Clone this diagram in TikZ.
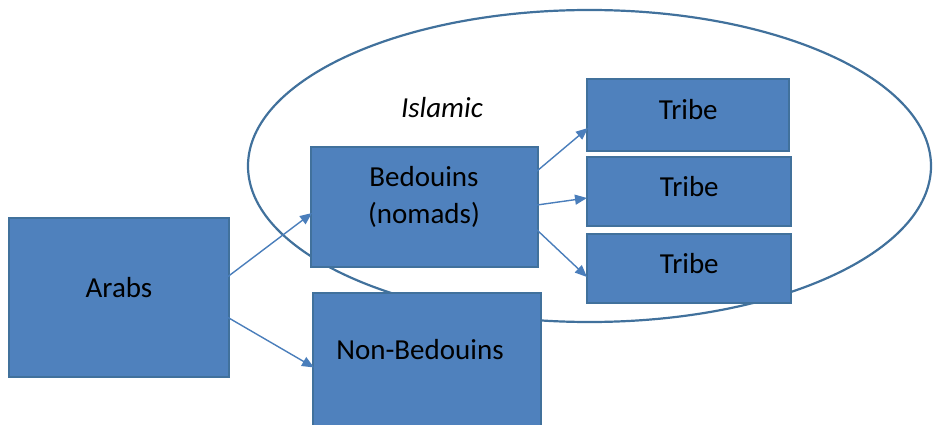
\documentclass[tikz,border=0pt]{standalone}
\usepackage{fontspec}
\setmainfont{Carlito}
\usetikzlibrary{arrows.meta,calc}
\definecolor{boxfill}{HTML}{4F81BD}
\definecolor{boxline}{HTML}{41719C}
\definecolor{conn}{HTML}{4A7EBB}
\begin{document}
\begin{tikzpicture}[x=1pt,y=-1pt,
  box/.style={draw=boxline, line width=2pt, fill=boxfill, inner sep=0pt},
  lbl/.style={font=\fontsize{29}{37.5}\selectfont, align=center, inner sep=0pt, anchor=base},
  arr/.style={draw=conn, line width=1.4pt, -{Triangle[length=12pt,width=10pt]}}]
\useasboundingbox (0,0) rectangle (934,425);
\clip (0,0) rectangle (934,425);
% enclosing ellipse
\draw[boxline, line width=2.2pt] (589.5,166) ellipse [x radius=341.5pt, y radius=156pt];
% boxes
\node[box, minimum width=220pt, minimum height=159pt] (arabs) at (119,297.5) {};
\node[box, minimum width=227pt, minimum height=120pt] (bed) at (424.5,207) {};
\node[box, minimum width=228pt, minimum height=147pt] (nonbed) at (427,366.5) {};
\node[box, minimum width=202pt, minimum height=72pt] (t1) at (688,115) {};
\node[box, minimum width=204pt, minimum height=69pt] (t2) at (689,191.5) {};
\node[box, minimum width=204pt, minimum height=69pt] (t3) at (689,268.5) {};
% labels
\node[lbl] (larabs) at (119,297) {Arabs};
\node[lbl] (lbed) at (424,223.5) {Bedouins\\(nomads)};
\node[lbl] (lnonbed) at (420,359) {Non-Bedouins};
\node[lbl] (lt1) at (688.3,119.3) {Tribe};
\node[lbl] (lt2) at (689.3,196.7) {Tribe};
\node[lbl] (lt3) at (689.3,273.3) {Tribe};
\node[lbl, font=\fontsize{29}{37.5}\selectfont\itshape] (lislam) at (442,117.3) {Islamic};
% connectors
\draw[arr] ($(arabs.east)+(-2,-21)$) -- ($(bed.west)+(2,6)$);
\draw[arr] ($(arabs.east)+(-2,20)$) -- ($(nonbed.west)+(2,1)$);
\draw[arr] ($(bed.east)+(-2,-36)$) -- ($(t1.west)+(2,13)$);
\draw[arr] ($(bed.east)+(-2,-2)$) -- ($(t2.west)+(1,6.5)$);
\draw[arr] ($(bed.east)+(-2,23)$) -- ($(t3.west)+(1,8.5)$);
\end{tikzpicture}
\end{document}
